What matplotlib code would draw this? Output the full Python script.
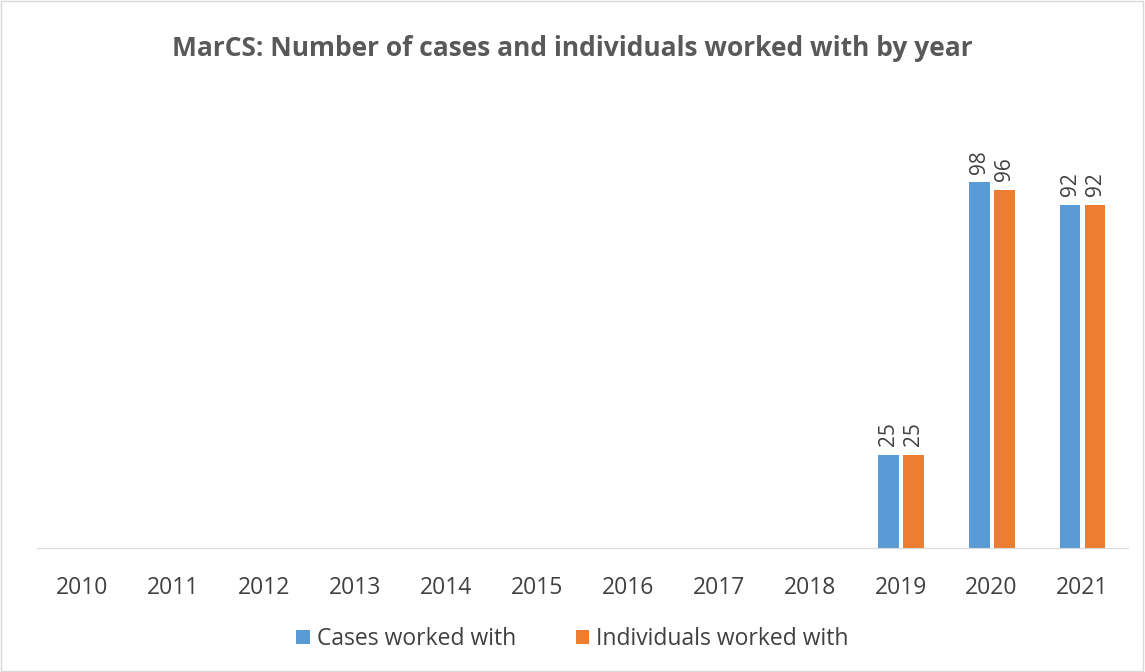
import matplotlib.pyplot as plt
import numpy as np
from matplotlib.patches import Rectangle

years = ["2010", "2011", "2012", "2013", "2014", "2015", "2016", "2017", "2018", "2019", "2020", "2021"]
cases = [0, 0, 0, 0, 0, 0, 0, 0, 0, 25, 98, 92]
individuals = [0, 0, 0, 0, 0, 0, 0, 0, 0, 25, 96, 92]

blue = "#5B9BD5"
orange = "#ED7D31"
text_col = "#404040"

plt.rcParams['font.family'] = ['Open Sans', 'DejaVu Sans']

fig = plt.figure(figsize=(11.45, 6.72), dpi=100)
ax = fig.add_axes([37 / 1145, 1 - 548 / 672, 1091 / 1145, (548 - 100) / 672])

x = np.arange(len(years))
w = 0.23
off = 0.1375
b1 = ax.bar(x - off, cases, w, color=blue, label="Cases worked with")
b2 = ax.bar(x + off, individuals, w, color=orange, label="Individuals worked with")

for bars, vals in ((b1, cases), (b2, individuals)):
    for bar, v in zip(bars, vals):
        if v > 0:
            ax.annotate(str(v), (bar.get_x() + bar.get_width() / 2, v),
                        xytext=(0, 6), textcoords="offset points",
                        rotation=90, ha="center", va="bottom",
                        fontsize=15, color=text_col)

ax.set_xlim(-0.5, len(years) - 0.5)
ax.set_ylim(0, 120)
ax.set_xticks(x)
ax.set_xticklabels(years, fontsize=16.5, color=text_col)
ax.tick_params(axis="x", length=0, pad=20)
ax.set_yticks([])
for s in ("top", "right", "left"):
    ax.spines[s].set_visible(False)
ax.spines["bottom"].set_color("#D9D9D9")

fig.text(0.5, 1 - 48 / 672, "MarCS: Number of cases and individuals worked with by year",
         ha="center", va="center", fontsize=19, fontweight="bold", color="#595959")

fig.legend(loc="center", bbox_to_anchor=(0.5, 1 - 639 / 672), ncol=2, frameon=False,
           fontsize=16.5, handlelength=0.6, handleheight=0.6, columnspacing=2.6,
           handletextpad=0.3, labelcolor=text_col)

fig.patches.append(Rectangle((0.001, 0.001), 0.997, 0.997, transform=fig.transFigure,
                             fill=False, edgecolor="#D9D9D9", linewidth=1))

fig.savefig("out.png", dpi=100)
